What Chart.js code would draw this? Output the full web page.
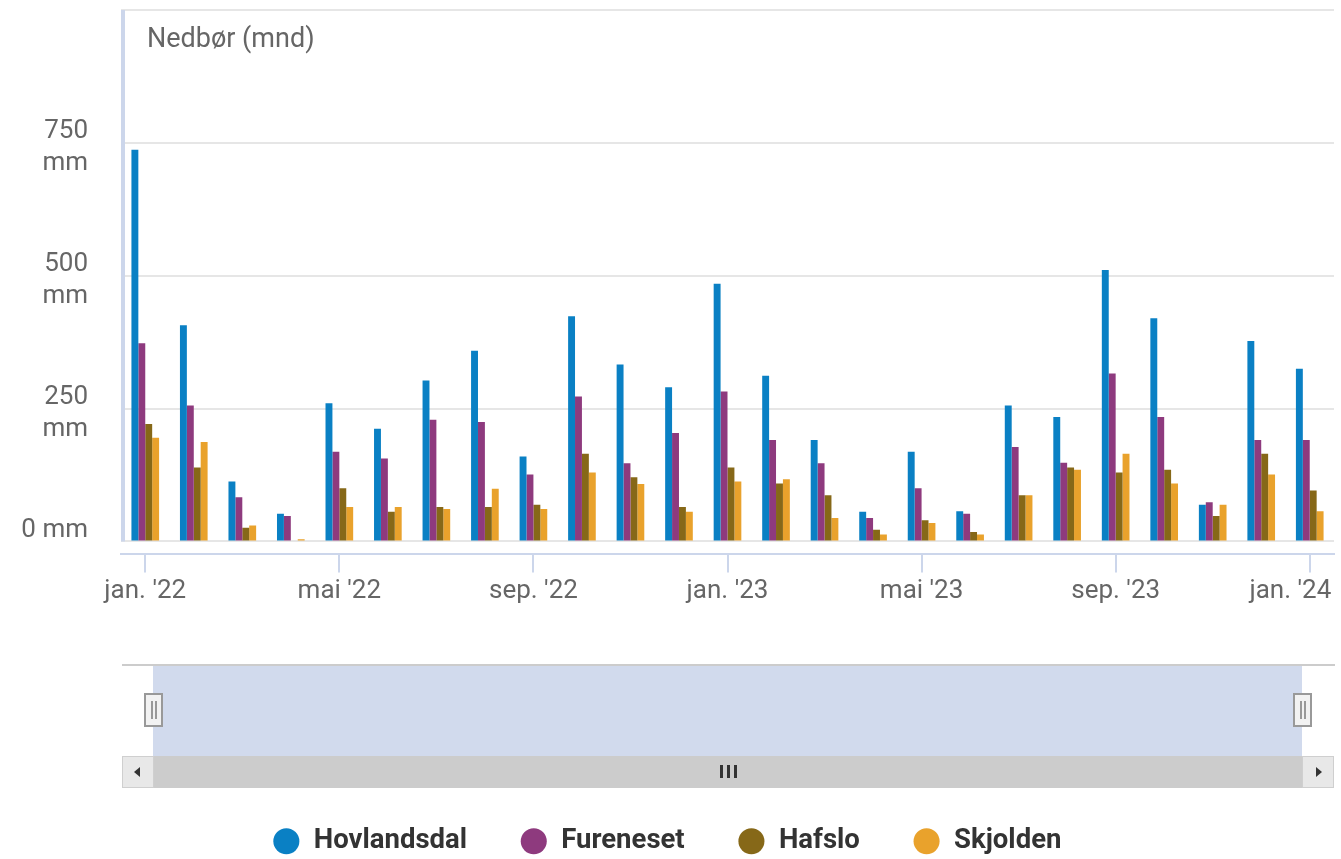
<!DOCTYPE html>
<html lang="no">
<head>
<meta charset="utf-8">
<title>Nedbør (mnd)</title>
<script src="https://cdn.jsdelivr.net/npm/chart.js@4.4.1/dist/chart.umd.min.js"></script>
<style>
  body { margin: 0; background: #fff; font-family: Roboto, sans-serif; }
  #wrap { position: relative; width: 1341px; height: 859px; }
  #wrap canvas { position: absolute; left: 0; top: 0; }
  .abs { position: absolute; box-sizing: border-box; }
  .nav-line { left: 122px; top: 664px; width: 1213px; height: 2px; background: #cccccc; }
  .nav-mask { left: 153px; top: 666px; width: 1149px; height: 90px; background: rgba(102, 133, 194, 0.3); }
  .handle { top: 693px; width: 19px; height: 34px; background: #f2f2f2; border: 2px solid #999; }
  .handle i { position: absolute; top: 6px; width: 2px; height: 18px; background: #999; }
  .scroll-track { left: 153px; top: 756px; width: 1149px; height: 32px; background: #cccccc; }
  .scroll-btn { top: 756px; width: 32px; height: 32px; background: #e8e8e8; border: 1px solid #cfcfcf; }
  .arrow { position: absolute; top: 10px; width: 0; height: 0; border-top: 5px solid transparent; border-bottom: 5px solid transparent; }
  .grip { top: 765px; width: 2.5px; height: 13px; background: #333; }
</style>
</head>
<body>
<div id="wrap">
  <canvas id="chart"></canvas>
  <!-- navigator og scrollbar -->
  <div class="abs nav-line"></div>
  <div class="abs nav-mask"></div>
  <div class="abs handle" style="left:144px"><i style="left:5px"></i><i style="left:9px"></i></div>
  <div class="abs handle" style="left:1293px"><i style="left:5px"></i><i style="left:9px"></i></div>
  <div class="abs scroll-track"></div>
  <div class="abs scroll-btn" style="left:122px"><span class="arrow" style="left:11px;border-right:6px solid #333"></span></div>
  <div class="abs scroll-btn" style="left:1302px"><span class="arrow" style="left:13px;border-left:6px solid #333"></span></div>
  <div class="abs grip" style="left:720px"></div>
  <div class="abs grip" style="left:727px"></div>
  <div class="abs grip" style="left:734px"></div>
</div>
<script>
// Data (mm per måned)
const months = ["jan. '22", "feb. '22", "mar. '22", "apr. '22", "mai '22", "jun. '22", "jul. '22", "aug. '22",
  "sep. '22", "okt. '22", "nov. '22", "des. '22", "jan. '23", "feb. '23", "mar. '23", "apr. '23", "mai '23",
  "jun. '23", "jul. '23", "aug. '23", "sep. '23", "okt. '23", "nov. '23", "des. '23", "jan. '24"];
const hovlandsdal = [737, 407, 113, 52, 260, 212, 303, 359, 160, 424, 333, 290, 485, 312, 191, 56, 169, 57, 256, 234, 511, 420, 69, 377, 325];
const fureneset = [373, 256, 83, 48, 169, 156, 229, 225, 126, 273, 147, 204, 282, 191, 147, 44, 100, 52, 178, 148, 316, 234, 74, 191, 191];
const hafslo = [221, 139, 26, null, 100, 56, 65, 65, 69, 165, 121, 65, 139, 109, 87, 22, 40, 18, 87, 139, 130, 135, 48, 165, 96];
const skjolden = [195, 187, 30, 4, 65, 65, 61, 99, 61, 130, 108, 56, 113, 117, 44, 13, 35, 13, 87, 135, 165, 109, 69, 126, 57];
const yTicks = [0, 250, 500, 750, 1000];
const chartTitle = 'Nedbør (mnd)';

Chart.defaults.font.family = 'Roboto, sans-serif';

// Venstre akselinje og tittel inne i plottet
const framePlugin = {
  id: 'frame',
  beforeDatasetsDraw(chart) {
    const { ctx, chartArea, scales } = chart;
    ctx.save();
    ctx.strokeStyle = '#ccd6eb';
    ctx.lineWidth = 4;
    ctx.beginPath();
    ctx.moveTo(chartArea.left + 2, chartArea.top);
    ctx.lineTo(chartArea.left + 2, scales.y.getPixelForValue(0));
    ctx.stroke();
    ctx.fillStyle = '#666';
    ctx.font = '27px Roboto, sans-serif';
    ctx.textBaseline = 'alphabetic';
    ctx.fillText(chartTitle, chartArea.left + 26, chartArea.top + 37);
    ctx.restore();
  }
};

const ds = (label, data, color) => ({
  label: label,
  data: data,
  backgroundColor: color,
  borderWidth: 0,
  barPercentage: 1,
  categoryPercentage: 0.57
});

new Chart(document.getElementById('chart'), {
  type: 'bar',
  data: {
    labels: months,
    datasets: [
      ds('Hovlandsdal', hovlandsdal, '#0a80c4'),
      ds('Fureneset', fureneset, '#8e3a7e'),
      ds('Hafslo', hafslo, '#866818'),
      ds('Skjolden', skjolden, '#e9a22c')
    ]
  },
  options: {
    responsive: true,
    maintainAspectRatio: false,
    animation: false,
    devicePixelRatio: 1,
    layout: { padding: { top: 10, right: 7, left: 0, bottom: -6 } },
    plugins: {
      tooltip: { enabled: false },
      legend: {
        position: 'bottom',
        labels: {
          usePointStyle: true,
          pointStyle: 'circle',
          boxWidth: 30,
          boxHeight: 18.4,
          padding: 53,
          color: '#333',
          font: { size: 27.5, weight: 'bold' }
        }
      }
    },
    scales: {
      x: {
        grid: {
          display: true,
          drawOnChartArea: false,
          drawTicks: true,
          tickLength: 19,
          offset: false,
          lineWidth: 2,
          color: c => c.index % 4 === 0 ? '#ccd6eb' : 'rgba(0,0,0,0)'
        },
        border: { display: true, color: '#ccd6eb', width: 2 },
        ticks: {
          autoSkip: false,
          maxRotation: 0,
          minRotation: 0,
          padding: 3,
          color: '#666',
          font: { size: 26, lineHeight: 1.23 },
          callback: function (v, i) {
            if (i % 4 !== 0) return '';
            // siste etikett flyttes inn i plottet
            return i === months.length - 1 ? months[i] + '\u00a0'.repeat(6) : months[i];
          }
        },
        afterFit: function (scale) {
          scale.height = 221;
          scale.paddingLeft = 0;
          scale.paddingRight = 0;
        }
      },
      y: {
        min: -22.6,
        max: 1000,
        afterBuildTicks: function (scale) {
          scale.ticks = yTicks.map(v => ({ value: v }));
        },
        grid: { color: '#e6e6e6', lineWidth: 2, drawTicks: false },
        border: { display: false },
        ticks: {
          padding: 33,
          labelOffset: 5,
          color: '#666',
          font: { size: 26, lineHeight: 1.23 },
          callback: function (v) {
            if (v === 1000) return '';
            if (v === 0) return ['0 mm', ''];
            return [String(v), 'mm'];
          }
        },
        afterFit: function (scale) {
          scale.width = 121;
          scale.paddingTop = 0;
          scale.paddingBottom = 0;
        }
      }
    }
  },
  plugins: [framePlugin]
});
</script>
</body>
</html>
